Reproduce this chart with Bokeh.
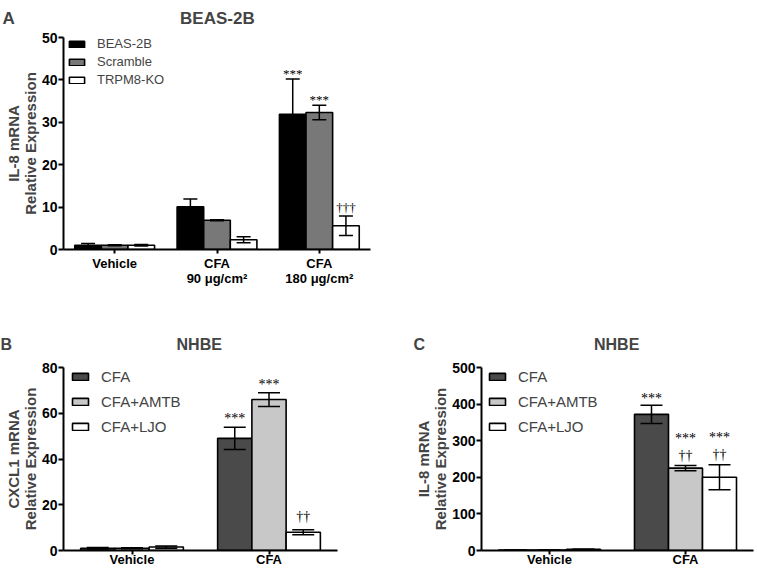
from bokeh.plotting import figure
from bokeh.models import (ColumnDataSource, Whisker, TeeHead, Legend, LegendItem,
                          FixedTicker, Range1d)
from bokeh.transform import dodge
from bokeh.layouts import column, row
from bokeh.embed import file_html
from bokeh.resources import INLINE

FONT = "Liberation Sans"
NBSP = "\u00a0"

# ---------------- Panel A data ----------------
a_groups = ["Vehicle", "CFA\n90 μg/cm²", "CFA\n180 μg/cm²"]
a_series = ["BEAS-2B", "Scramble", "TRPM8-KO"]
a_colors = ["#000000", "#787878", "#ffffff"]
a_means = [[1.0, 10.1, 31.9], [1.0, 6.9, 32.3], [1.0, 2.3, 5.6]]
a_errs = [[0.4, 1.8, 8.3], [0.1, 0.1, 1.7], [0.2, 0.7, 2.3]]
a_stars = [["", "", "***"], ["", "", "***"], ["", "", ""]]
a_daggers = [["", "", ""], ["", "", ""], ["", "", "†††"]]
a_ticks = [0, 10, 20, 30, 40, 50]

# ---------------- Panel B data ----------------
b_groups = ["Vehicle", "CFA"]
b_series = ["CFA", "CFA+AMTB", "CFA+LJO"]
b_colors = ["#4a4a4a", "#c8c8c8", "#ffffff"]
b_means = [[1.0, 49.0], [1.0, 66.0], [1.5, 8.0]]
b_errs = [[0.3, 4.9], [0.2, 3.0], [0.5, 1.1]]
b_stars = [["", "***"], ["", "***"], ["", ""]]
b_daggers = [["", ""], ["", ""], ["", "††"]]
b_ticks = [0, 20, 40, 60, 80]

# ---------------- Panel C data ----------------
c_groups = ["Vehicle", "CFA"]
c_series = ["CFA", "CFA+AMTB", "CFA+LJO"]
c_colors = ["#4a4a4a", "#c8c8c8", "#ffffff"]
c_means = [[1.0, 372.0], [1.0, 225.0], [3.0, 200.0]]
c_errs = [[0.3, 25.0], [0.3, 7.0], [0.5, 34.0]]
c_stars = [["", "***"], ["", "***"], ["", "***"]]
c_daggers = [["", ""], ["", "††"], ["", "††"]]
c_ticks = [0, 100, 200, 300, 400, 500]


def make_panel(groups, series, colors, means, errs, stars, daggers, ticks, ymax,
               ylabel, title, letter, origin, width, height, borders, bar_w,
               cap, legend_font, glyph_h, glyph_w, label_h, legend_spacing,
               legend_top, legend_left, letter_x, title_x, title_size,
               title_valign, title_standoff, sig_font, star_off, dag_off, dag_gap,
               xlabel_standoff):
    left, right, top, bottom = borders
    ox, oy = origin
    fh = height - top - bottom
    fx0 = ox + left          # page x of frame left
    fy1 = oy + top + fh      # page y of frame bottom

    p = figure(x_range=groups, y_range=Range1d(0, ymax), width=width, height=height,
               output_backend="svg", toolbar_location=None,
               min_border_left=left, min_border_right=right,
               min_border_top=top, min_border_bottom=bottom)
    p.outline_line_color = None
    p.xgrid.visible = False
    p.ygrid.visible = False

    # panel letter and title on one line (letter, spacer, title)
    letter_w = 0.722 * title_size
    n_sp = max(1, round((title_x - letter_x - letter_w) / (0.278 * title_size)))
    p.title.text = letter + NBSP * n_sp + title
    p.title.align = "left"
    p.title.offset = letter_x - fx0
    p.title.text_font = FONT
    p.title.text_font_style = "bold"
    p.title.text_font_size = f"{title_size}px"
    p.title.vertical_align = title_valign
    p.title.standoff = title_standoff

    n = len(series)
    offsets = [(i - (n - 1) / 2) * bar_w for i in range(n)]
    items = []
    for i in range(n):
        src = ColumnDataSource(dict(
            g=groups, v=means[i],
            up=[m + e for m, e in zip(means[i], errs[i])],
            lo=[m - e for m, e in zip(means[i], errs[i])],
            st=stars[i], dg=daggers[i],
            so=[star_off - (dag_gap if d else 0) for d in daggers[i]]))
        xs = dodge("g", offsets[i], range=p.x_range)
        r = p.vbar(x=xs, top="v", bottom=0, width=bar_w, source=src,
                   fill_color=colors[i], line_color="black", line_width=1.6)
        items.append(LegendItem(label=series[i], renderers=[r]))
        w = Whisker(base=xs, upper="up", lower="lo", source=src,
                    line_color="black", line_width=1.5, level="overlay",
                    upper_head=TeeHead(size=cap, line_color="black", line_width=1.5),
                    lower_head=TeeHead(size=cap, line_color="black", line_width=1.5))
        p.add_layout(w)
        p.text(x=xs, y="up", text="dg", source=src, text_align="center",
               text_baseline="bottom", text_font=FONT, text_font_size=sig_font,
               text_color="black", y_offset=dag_off)
        p.text(x=xs, y="up", text="st", source=src, text_align="center",
               text_baseline="bottom", text_font=FONT, text_font_size=sig_font,
               text_color="black", y_offset="so")

    leg_h = n * label_h + (n - 1) * legend_spacing
    leg = Legend(items=items,
                 location=(legend_left - fx0, fy1 - (legend_top + leg_h)),
                 margin=0, padding=0, label_height=label_h, label_width=10,
                 glyph_height=glyph_h, glyph_width=glyph_w, spacing=legend_spacing,
                 label_standoff=11, label_text_font=FONT,
                 label_text_font_size=legend_font, border_line_color=None,
                 background_fill_alpha=0)
    p.add_layout(leg)

    for ax in (p.xaxis, p.yaxis):
        ax.axis_line_width = 2
        ax.major_tick_line_width = 2
        ax.major_tick_in = 0
        ax.minor_tick_line_color = None
        ax.major_label_text_font = FONT
        ax.major_label_text_font_style = "bold"
        ax.major_label_text_color = "black"
        ax.axis_line_color = "black"
        ax.major_tick_line_color = "black"
    p.xaxis.major_tick_out = 4
    p.yaxis.major_tick_out = 5
    p.xaxis.major_label_text_font_size = "13px"
    p.xaxis.major_label_standoff = xlabel_standoff
    p.xaxis.major_label_text_line_height = 1.0
    p.yaxis.major_label_text_font_size = "14px"
    p.yaxis.major_label_standoff = 1
    p.yaxis.ticker = FixedTicker(ticks=ticks)
    p.yaxis.axis_label = ylabel
    p.yaxis.axis_label_text_font = FONT
    p.yaxis.axis_label_text_font_style = "bold"
    p.yaxis.axis_label_text_font_size = "15px"
    p.yaxis.axis_label_text_line_height = 1.0
    p.yaxis.axis_label_standoff = 0
    return p


pa = make_panel(a_groups, a_series, a_colors, a_means, a_errs, a_stars, a_daggers,
                a_ticks, 50, "IL-8 mRNA\nRelative Expression", "BEAS-2B", "A",
                origin=(0, 0), width=380, height=290, borders=(63, 10, 35, 41),
                bar_w=0.26, cap=14, legend_font="13px", glyph_h=8, glyph_w=19,
                label_h=15, legend_spacing=3, legend_top=36, legend_left=67,
                letter_x=2, title_x=180, title_size=17, title_valign="top",
                title_standoff=16, sig_font="13px", star_off=2, dag_off=-1,
                dag_gap=18, xlabel_standoff=2)
pb = make_panel(b_groups, b_series, b_colors, b_means, b_errs, b_stars, b_daggers,
                b_ticks, 80, "CXCL1 mRNA\nRelative Expression", "NHBE", "B",
                origin=(0, 290), width=410, height=283, borders=(63, 73, 77, 23),
                bar_w=0.25, cap=22, legend_font="15px", glyph_h=9, glyph_w=20,
                label_h=17, legend_spacing=8, legend_top=368, legend_left=70,
                letter_x=0, title_x=176, title_size=16, title_valign="bottom",
                title_standoff=30, sig_font="14px", star_off=-1, dag_off=-6,
                dag_gap=21, xlabel_standoff=-3)
pc = make_panel(c_groups, c_series, c_colors, c_means, c_errs, c_stars, c_daggers,
                c_ticks, 500, "IL-8 mRNA\nRelative Expression", "NHBE", "C",
                origin=(410, 290), width=345, height=283, borders=(71, 2, 77, 23),
                bar_w=0.25, cap=22, legend_font="15px", glyph_h=9, glyph_w=20,
                label_h=17, legend_spacing=8, legend_top=368, legend_left=487,
                letter_x=413, title_x=594, title_size=16, title_valign="bottom",
                title_standoff=30, sig_font="14px", star_off=1, dag_off=-3,
                dag_gap=21, xlabel_standoff=-3)

layout = column(pa, row(pb, pc))
open("out.html", "w").write(file_html(layout, INLINE))
